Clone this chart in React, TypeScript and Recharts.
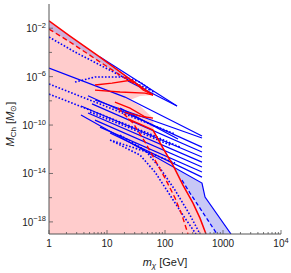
import React from 'react';
import { ComposedChart, Line, Area, XAxis, YAxis } from 'recharts';

// Points: [m_chi (GeV), log10(M_Ch / M_sun)]
type P = [number, number];
// Bands: [m_chi (GeV), log10 lower, log10 upper]
type R = [number, number, number];

const redSolidTop: P[] = [[1, -1.4], [2.3, -2.65], [7.57, -4.38], [24.9, -6.2], [62.1, -7.52]];
const redDashedTop: P[] = [[1, -2.07], [2.3, -3.14], [7.57, -4.79], [16.8, -5.87], [30.4, -6.61], [37.1, -6.78]];
const redLensUpper: P[] = [[6.21, -6.69], [12.2, -6.53], [27.0, -6.28], [41.8, -7.11], [62.1, -7.52]];
const redLensLower: P[] = [[6.21, -7.11], [16.8, -7.27], [45.2, -7.36], [62.1, -7.52]];
const redWedgeB: P[] = [[13.7, -8.1], [24.9, -8.6], [49.0, -9.42]];
const redWedgeBLower: P[] = [[20.4, -8.93], [37.1, -9.26], [62.1, -9.42]];
const redSolidSteep: P[] = [[23.0, -9.5], [37.1, -9.92], [62.1, -10.41], [92.4, -11.9], [137, -13.31], [204, -14.96], [304, -16.45], [401, -17.69], [509, -19.0]];
const redDashedSteep: P[] = [[15.5, -8.6], [28.1, -9.83], [45.2, -11.4], [67.2, -12.89], [100, -14.38], [149, -16.03], [196, -17.44], [249, -19.0]];

const blueSolid: P[][] = [
  [[7.57, -4.38], [161, -8.43]],
  [[23.0, -6.36], [161, -8.43]],
  [[1, -5.29], [20.4, -7.69], [434, -10.91]],
  [[6.21, -7.93], [434, -11.07]],
  [[16.8, -8.6], [167.5, -11.16]],
  [[4.7, -7.58], [434, -11.82]],
  [[5.51, -8.25], [434, -12.23]],
  [[3.56, -8.43], [434, -12.64]],
  [[4.7, -9.01], [434, -13.06]],
  [[6.21, -9.59], [434, -13.47]],
  [[7.57, -10.17], [434, -13.88]],
  [[11.3, -10.66], [434, -14.3]],
  [[3.56, -9.17], [434, -14.79], [490, -15.95], [1374, -19.0]],
];

const blueDotted: P[][] = [
  [[1, -2.73], [2.81, -3.97], [7.57, -5.04], [20.4, -6.12], [55.1, -7.11]],
  [[2.81, -6.45], [6.21, -6.03], [20.4, -6.03], [37.1, -6.45], [67.2, -7.36]],
  [[1, -6.61], [7.57, -8.26], [55.1, -9.92], [148.7, -10.74]],
  [[1, -7.44], [7.57, -9.09], [55.1, -10.74], [181, -11.82]],
  [[5.09, -8.93], [24.9, -10.25], [122, -11.65]],
  [[12.7, -11.32], [55.1, -12.31], [148.7, -13.14]],
  [[16.8, -10.83], [45.2, -12.07], [82, -13.55], [148.7, -15.37], [270, -17.44], [401, -19.0]],
  [[11.3, -11.24], [37.1, -12.48], [67.2, -13.88], [122, -15.79], [221, -17.69], [342, -19.0]],
];

const blueDashed: P[] = [[196, -14.55], [270, -15.62], [788, -19.0]];

const pinkLeft: R[] = [[1, -19, -1.4], [2.3, -19, -2.65], [7.57, -19, -4.38], [24.9, -19, -6.2]];
const pinkWedgeA: R[] = [[24.9, -7.93, -6.2], [37.1, -7.6, -6.78], [62.1, -7.52, -7.52]];
const pinkRight: R[] = [[24.9, -19, -7.93], [37.1, -19, -8.43], [62.1, -19, -9.42], [63.4, -19, -10.41], [92.4, -19, -11.9], [137, -19, -13.31], [204, -19, -14.96], [304, -19, -16.45], [401, -19, -17.69], [509, -19, -19.0]];
const purpleBand: R[] = [[1, -2.07, -1.4], [2.3, -3.14, -2.65], [7.57, -4.79, -4.38], [16.8, -5.87, -5.6], [30.4, -6.61, -6.49], [37.1, -6.78, -6.78]];
const blueDark: R[] = [[145.8, -13.51, -13.51], [204, -14.96, -13.91], [304, -16.45, -14.38], [401, -17.69, -14.7], [434, -18.12, -14.79], [490, -18.79, -15.95], [509, -19, -16.07], [1374, -19, -19]];
const blueLight: R[] = [[196, -14.49, -14.55], [270, -16.0, -15.62], [401, -17.69, -16.88], [509, -19, -17.63], [788, -19, -19]];

const xMajor = [1, 10, 100, 1000, 10000];
const xMinor = [2, 3, 4, 5, 6, 7, 8, 9, 20, 30, 40, 50, 60, 70, 80, 90, 200, 300, 400, 500, 600, 700, 800, 900, 2000, 3000, 4000, 5000, 6000, 7000, 8000, 9000];
const yMajorExp = [-18, -14, -10, -6, -2];
const yMinorExp = [-16, -12, -8, -4];

const PL = 49, PR = 281, PT = 4, PB = 234;
const FRAME = '#555';
const FONT = '"Liberation Sans", Arial, sans-serif';

const toLine = (pts: P[]) => pts.map(([m, e]) => ({ x: m, y: Math.pow(10, e) }));
const toBand = (pts: R[]) => pts.map(([m, lo, hi]) => ({ x: m, r: [Math.pow(10, lo), Math.pow(10, hi)] }));

const xTicks = [...xMajor, ...xMinor].sort((a, b) => a - b);
const yTicks = [...yMajorExp, ...yMinorExp].sort((a, b) => a - b).map((e) => Math.pow(10, e));
const expOf = (v: number) => Math.round(Math.log10(v));

const XTickBottom = (props: any) => {
  const { x, payload } = props;
  const v = payload.value;
  const major = xMajor.includes(v);
  return (
    <g>
      <line x1={x} x2={x} y1={PB} y2={PB - (major ? 4 : 2)} stroke={FRAME} strokeWidth={0.8} />
      {major && (
        <text x={x} y={PB + 13} textAnchor="middle" fontSize={10} fontFamily={FONT} fill="#222">
          {v === 10000 ? (
            <>
              10<tspan dy={-4.5} fontSize={7.5}>4</tspan>
            </>
          ) : (
            String(v)
          )}
        </text>
      )}
    </g>
  );
};

const XTickTop = (props: any) => {
  const { x, payload } = props;
  const major = xMajor.includes(payload.value);
  return <line x1={x} x2={x} y1={PT} y2={PT + (major ? 4 : 2)} stroke={FRAME} strokeWidth={0.8} />;
};

const YTickLeft = (props: any) => {
  const { y, payload } = props;
  const e = expOf(payload.value);
  const major = yMajorExp.includes(e);
  return (
    <g>
      <line x1={PL} x2={PL + (major ? 4 : 3)} y1={y} y2={y} stroke={FRAME} strokeWidth={0.8} />
      {major && (
        <text x={PL - 3} y={y + 4} textAnchor="end" fontSize={10} fontFamily={FONT} fill="#222">
          10<tspan dy={-4.5} fontSize={7.5}>{'\u2212' + Math.abs(e)}</tspan>
        </text>
      )}
    </g>
  );
};

const YTickRight = (props: any) => {
  const { y, payload } = props;
  const major = yMajorExp.includes(expOf(payload.value));
  return <line x1={PR} x2={PR - (major ? 4 : 3)} y1={y} y2={y} stroke={FRAME} strokeWidth={0.8} />;
};

const YLabel = () => (
  <text transform="translate(14,124) rotate(-90)" textAnchor="middle" fontSize={11} fontFamily={FONT} fill="#222">
    <tspan fontStyle="italic">M</tspan>
    <tspan fontSize={8} dy={2}>Ch</tspan>
    <tspan dy={-2}> [</tspan>
    <tspan fontStyle="italic">M</tspan>
    <tspan fontSize={8} dy={2}>{'\u2299'}</tspan>
    <tspan dy={-2}>]</tspan>
  </text>
);

const XLabel = () => (
  <text x={165} y={266} textAnchor="middle" fontSize={11} fontFamily={FONT} fill="#222">
    <tspan fontStyle="italic">m</tspan>
    <tspan fontSize={8} dy={2} fontStyle="italic">{'\u03C7'}</tspan>
    <tspan dy={-2}> [GeV]</tspan>
  </text>
);

const bandProps = { dataKey: 'r', stroke: 'none', fillOpacity: 1, isAnimationActive: false, type: 'linear' as const, dot: false, activeDot: false };
const lineProps = { dataKey: 'y', dot: false, activeDot: false, isAnimationActive: false, type: 'linear' as const };

export default function App() {
  return (
    <div style={{ position: 'absolute', left: 0, top: 0, background: '#fff' }}>
      <ComposedChart width={291} height={273} margin={{ top: PT, right: 10, left: 0, bottom: 0 }}>
        <XAxis
          dataKey="x"
          type="number"
          scale="log"
          domain={[1, 10000]}
          allowDataOverflow
          ticks={xTicks}
          interval={0}
          height={39}
          tickLine={false}
          tickSize={0}
          tick={<XTickBottom />}
          axisLine={{ stroke: FRAME, strokeWidth: 1 }}
          label={<XLabel />}
        />
        <XAxis
          xAxisId="top"
          orientation="top"
          dataKey="x"
          type="number"
          scale="log"
          domain={[1, 10000]}
          allowDataOverflow
          ticks={xTicks}
          interval={0}
          height={0}
          tickLine={false}
          tickSize={0}
          tick={<XTickTop />}
          axisLine={{ stroke: '#888', strokeWidth: 1 }}
        />
        <YAxis
          type="number"
          scale="log"
          domain={[1e-19, 1]}
          allowDataOverflow
          ticks={yTicks}
          interval={0}
          width={49}
          tickLine={false}
          tickSize={0}
          tick={<YTickLeft />}
          axisLine={{ stroke: FRAME, strokeWidth: 1 }}
          label={<YLabel />}
        />
        <YAxis
          yAxisId="right"
          orientation="right"
          type="number"
          scale="log"
          domain={[1e-19, 1]}
          allowDataOverflow
          ticks={yTicks}
          interval={0}
          width={0}
          tickLine={false}
          tickSize={0}
          tick={<YTickRight />}
          axisLine={{ stroke: '#aaa', strokeWidth: 2 }}
        />

        <Area {...bandProps} data={toBand(pinkLeft)} fill="#ffcccc" />
        <Area {...bandProps} data={toBand(pinkWedgeA)} fill="#ffcccc" />
        <Area {...bandProps} data={toBand(pinkRight)} fill="#ffcccc" />
        <Area {...bandProps} data={toBand(purpleBand)} fill="#cdb0da" />
        <Area {...bandProps} data={toBand(blueDark)} fill="#c8c8f6" />
        <Area {...bandProps} data={toBand(blueLight)} fill="#dcdcfa" />

        {blueDotted.map((d, i) => (
          <Line key={'bd' + i} {...lineProps} data={toLine(d)} stroke="#0000ff" strokeWidth={1.6} strokeDasharray="1.6 1.8" />
        ))}
        <Line {...lineProps} data={toLine(blueDashed)} stroke="#0000ff" strokeWidth={1.3} strokeDasharray="4 2.5" />
        {blueSolid.map((d, i) => (
          <Line key={'bs' + i} {...lineProps} data={toLine(d)} stroke="#0000ff" strokeWidth={1.2} />
        ))}
        <Line {...lineProps} data={toLine(redDashedTop)} stroke="#ff0000" strokeWidth={1.4} strokeDasharray="5 3" />
        <Line {...lineProps} data={toLine(redDashedSteep)} stroke="#ff0000" strokeWidth={1.4} strokeDasharray="5 3" />
        <Line {...lineProps} data={toLine(redSolidTop)} stroke="#ff0000" strokeWidth={1.5} />
        <Line {...lineProps} data={toLine(redLensUpper)} stroke="#ff0000" strokeWidth={1.3} />
        <Line {...lineProps} data={toLine(redLensLower)} stroke="#ff0000" strokeWidth={1.3} />
        <Line {...lineProps} data={toLine(redWedgeB)} stroke="#ff0000" strokeWidth={1.3} />
        <Line {...lineProps} data={toLine(redWedgeBLower)} stroke="#ff0000" strokeWidth={1.3} />
        <Line {...lineProps} data={toLine(redSolidSteep)} stroke="#ff0000" strokeWidth={1.5} />
      </ComposedChart>
    </div>
  );
}
